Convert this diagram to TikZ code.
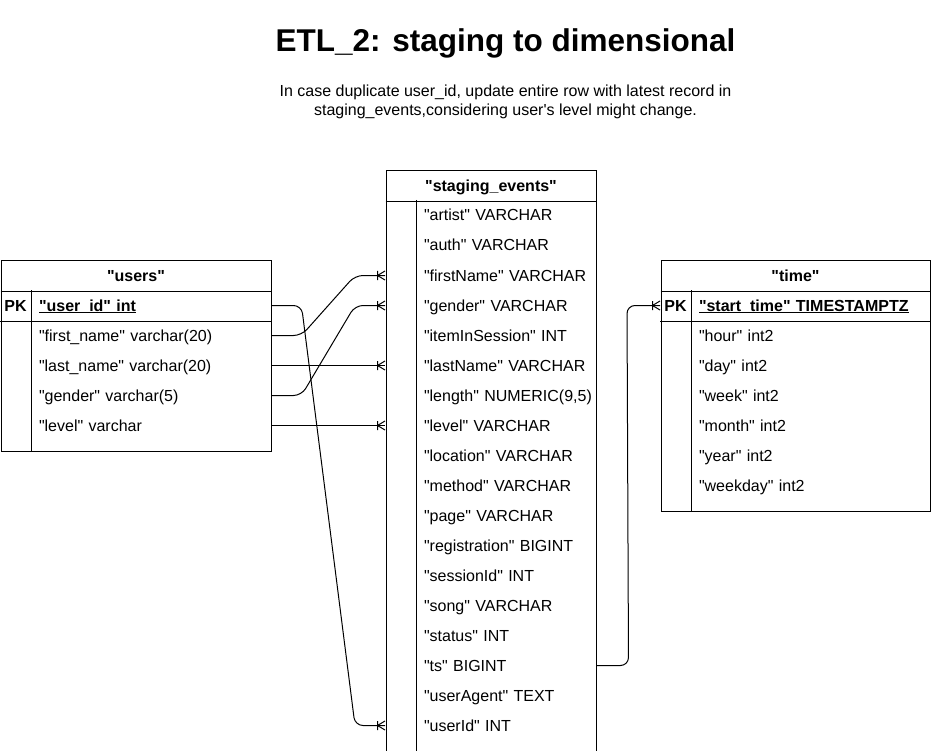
\documentclass[tikz,border=0pt]{standalone}
\usepackage{fontspec}
\setmainfont{Liberation Sans}[Ligatures=TeXOff]
\usetikzlibrary{arrows.meta,calc}
\newcommand{\keyfield}[1]{\setbox0\hbox{#1}\rlap{\rule[-2pt]{\wd0}{1pt}}\box0}

\pgfdeclarearrow{
  name = ER Many,
  parameters = {\the\pgflinewidth},
  setup code = {
    \pgfarrowssettipend{0pt}
    \pgfarrowssetlineend{0pt}
    \pgfarrowssetbackend{-8pt}
    \pgfarrowssetvisualbackend{-8pt}
    \pgfarrowsupperhullpoint{0pt}{4.5pt}
    \pgfarrowsupperhullpoint{-8pt}{4.5pt}
  },
  drawing code = {
    \pgfsetdash{}{0pt}
    \pgfpathmoveto{\pgfqpoint{0pt}{4.5pt}}
    \pgfpathlineto{\pgfqpoint{-7.5pt}{0pt}}
    \pgfpathlineto{\pgfqpoint{0pt}{-4.5pt}}
    \pgfpathmoveto{\pgfqpoint{-7.5pt}{4.5pt}}
    \pgfpathlineto{\pgfqpoint{-7.5pt}{-4.5pt}}
    \pgfusepathqstroke
  }
}

\begin{document}
\begin{tikzpicture}[x=1pt, y=-1pt, line width=1pt,
    every node/.style={inner sep=0pt, font=\fontsize{16}{19}\selectfont},
    frame/.style={draw, anchor=north west},
    head/.style={minimum height=30pt, text height=13.5pt, text depth=2.5pt,
      font=\fontsize{16}{19}\selectfont\bfseries},
    keycell/.style={minimum width=30pt, minimum height=30pt, text height=13.5pt,
      text depth=2.5pt, font=\fontsize{16}{19}\selectfont\bfseries},
    field/.style={anchor=west, minimum height=30pt, text height=13.5pt,
      text depth=2.5pt, align=left, inner xsep=8pt},
    relation/.style={draw, rounded corners=8pt, -{ER Many}}]
  \useasboundingbox (0,0) rectangle (931,751);

  % title
  \node[anchor=base, font=\fontsize{31.5}{36}\selectfont\bfseries] (title) at (505.5,51.5)
    {ETL\_2: staging to dimensional};
  \node[anchor=base, align=center, font=\fontsize{16}{19}\selectfont] (note) at (505.5,115.5)
    {In case duplicate user\_id, update entire row with latest record in\\
     staging\_events,considering user's level might change.};

  % "users"
  \node[frame, minimum width=270pt, minimum height=190pt] (users) at (0.5,260.5) {};
  \node[head, anchor=north, minimum width=270pt] (u-head) at (users.north) {"users"};
  \node[keycell] (u-k0) at (15.5,305.5) {PK};
  \node[field, text width=224pt, font=\fontsize{16}{19}\selectfont\bfseries] (u-f0)
    at (30.5,305.5) {\keyfield{"user\_id" int}};
  \foreach \fname [count=\i] in {{"first\_name" varchar(20)}, {"last\_name" varchar(20)},
      {"gender" varchar(5)}, {"level" varchar}}
    \node[field, text width=224pt] (u-f\i) at (30.5,305.5+30*\i) {\fname};
  \draw (u-head.south west) -- (u-head.south east);
  \draw (u-k0.south west) -- (u-f0.south east);
  \draw (u-k0.north east) -- (u-k0.north east |- users.south);

  % "staging_events"
  \node[frame, minimum width=210pt, minimum height=580pt] (staging) at (385.5,170.5) {};
  \node[head, anchor=north, minimum width=210pt] (s-head) at (staging.north) {"staging\_events"};
  \foreach \fname [count=\i from 0] in {{"artist" VARCHAR}, {"auth" VARCHAR},
      {"firstName" VARCHAR}, {"gender" VARCHAR}, {"itemInSession" INT},
      {"lastName" VARCHAR}, {"length" NUMERIC(9,5)}, {"level" VARCHAR},
      {"location" VARCHAR}, {"method" VARCHAR}, {"page" VARCHAR},
      {"registration" BIGINT}, {"sessionId" INT}, {"song" VARCHAR},
      {"status" INT}, {"ts" BIGINT}, {"userAgent" TEXT}, {"userId" INT}} {
    \node[keycell] (s-k\i) at (400.5,215.5+30*\i) {};
    \node[field, text width=164pt] (s-f\i) at (415.5,215.5+30*\i) {\mbox{\fname}};
  }
  \draw (s-head.south west) -- (s-head.south east);
  \draw (s-k0.north east) -- (s-k0.north east |- staging.south);

  % "time"
  \node[frame, minimum width=269pt, minimum height=250pt] (time) at (660.5,260.5) {};
  \node[head, anchor=north, minimum width=269pt] (t-head) at (time.north) {"time"};
  \node[keycell] (t-k0) at (675.5,305.5) {PK};
  \node[field, text width=223pt, font=\fontsize{16}{19}\selectfont\bfseries] (t-f0)
    at (690.5,305.5) {\keyfield{"start\_time" TIMESTAMPTZ}};
  \foreach \fname [count=\i] in {{"hour" int2}, {"day" int2}, {"week" int2},
      {"month" int2}, {"year" int2}, {"weekday" int2}}
    \node[field, text width=223pt] (t-f\i) at (690.5,305.5+30*\i) {\fname};
  \draw (t-head.south west) -- (t-head.south east);
  \draw (t-k0.south west) -- (t-f0.south east);
  \draw (t-k0.north east) -- (t-k0.north east |- time.south);

  % relations
  \draw[relation] (u-f0.east) -- ++(30,0) -- ($(s-k17.west)+(-30,0)$) -- (s-k17.west);
  \draw[relation] (u-f1.east) -- ++(30,0) -- ($(s-k2.west)+(-30,0)$) -- (s-k2.west);
  \draw[relation] (u-f3.east) -- ++(30,0) -- ($(s-k3.west)+(-30,0)$) -- (s-k3.west);
  \draw[relation] (u-f2.east) -- (s-k5.west);
  \draw[relation] (u-f4.east) -- (s-k7.west);
  \draw[relation] (s-f15.east) -- ++(32,0) -- ($(t-k0.west)+(-33,0)$) -- (t-k0.west);
\end{tikzpicture}
\end{document}
